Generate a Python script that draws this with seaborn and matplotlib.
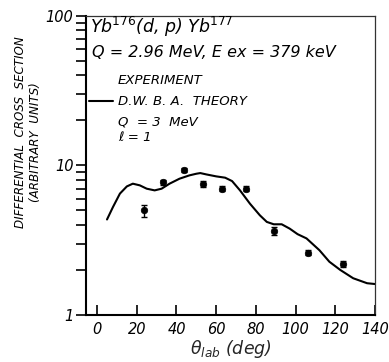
import matplotlib
matplotlib.use("Agg")
import matplotlib.pyplot as plt
import seaborn as sns
import pandas as pd

# DWBA theory curve (Q = 3 MeV, l = 1)
theory_theta = [5, 8, 11.5, 15, 18, 21.5, 25, 29, 32.5, 36.5, 41.5, 46.5, 50, 52,
                55, 60, 64.5, 68, 72, 77, 82, 85.5, 89, 93, 97, 101, 105.5, 112,
                117, 122.5, 129, 136, 140]
theory_sigma = [4.35, 5.27, 6.48, 7.24, 7.55, 7.36, 6.99, 6.81, 6.99, 7.55, 8.15,
                8.58, 8.80, 8.89, 8.71, 8.45, 8.28, 7.86, 6.81, 5.55, 4.64, 4.19,
                4.04, 4.04, 3.78, 3.47, 3.25, 2.71, 2.27, 2.0, 1.76, 1.63, 1.61]

# measured cross sections
exp_theta = [23.5, 33, 44, 53.5, 63, 75, 89, 106, 124]
exp_sigma = [5.0, 7.7, 9.35, 7.5, 7.0, 7.0, 3.65, 2.6, 2.18]
exp_err = [0.45, 0.35, 0.3, 0.35, 0.25, 0.25, 0.2, 0.1, 0.1]

x_ticks = [0, 20, 40, 60, 80, 100, 120, 140]
y_ticks = [1, 10, 100]
y_ticklabels = ["1", "10", "100"]

sns.set_theme(style="white")
plt.rcParams["font.family"] = ["DejaVu Sans"]
plt.rcParams["mathtext.fontset"] = "dejavusans"
plt.rcParams["mathtext.default"] = "it"

fig = plt.figure(figsize=(3.89, 3.62), dpi=100)
ax = fig.add_axes([0.221, 0.130, 0.743, 0.826])

theory = pd.DataFrame({"theta": theory_theta, "sigma": theory_sigma})
data = pd.DataFrame({"theta": exp_theta, "sigma": exp_sigma, "err": exp_err})

sns.lineplot(data=theory, x="theta", y="sigma", ax=ax, color="black",
             linewidth=1.5, sort=False)
ax.errorbar(data["theta"], data["sigma"], yerr=data["err"], fmt="none",
            ecolor="black", elinewidth=1.0, capsize=2.5, capthick=1.0)
sns.scatterplot(data=data, x="theta", y="sigma", ax=ax, color="black",
                marker="o", s=22, edgecolor="black", linewidth=0.5, zorder=5)

ax.set_yscale("log")
ax.set_xlim(-5.6, 140)
ax.set_ylim(1, 100)

tick_font = dict(family="DejaVu Sans", style="italic", size=10.5)
ax.set_xticks(x_ticks)
ax.set_xticklabels([str(t) for t in x_ticks], **tick_font)
ax.set_yticks(y_ticks)
ax.set_yticklabels(y_ticklabels, **tick_font)
ax.yaxis.set_minor_locator(matplotlib.ticker.LogLocator(base=10, subs=range(2, 10)))
ax.yaxis.set_minor_formatter(matplotlib.ticker.NullFormatter())

ax.tick_params(axis="x", which="major", direction="in", length=7, width=1.2,
               bottom=True, top=False, pad=5, colors="black")
ax.tick_params(axis="y", which="both", direction="out", length=7, width=1.2,
               left=True, right=False, pad=2, colors="black")

for side in ["left", "bottom"]:
    ax.spines[side].set_linewidth(1.5)
    ax.spines[side].set_color("black")
for side in ["right", "top"]:
    ax.spines[side].set_linewidth(0.9)
    ax.spines[side].set_color("#333333")

ax.set_xlabel(r"$\theta_{lab}$ (deg)", fontsize=12.5, style="italic", labelpad=1)
ax.set_ylabel("")

label_font = dict(family="DejaVu Sans", style="italic", color="black")
fig.text(0.052, 0.635, "DIFFERENTIAL  CROSS  SECTION", rotation=90,
         ha="center", va="center", size=8.6, **label_font)
fig.text(0.092, 0.608, "(ARBITRARY  UNITS)", rotation=90,
         ha="center", va="center", size=8.6, **label_font)

ax.text(0.015, 0.962, r"Yb$^{176}$(d, p) Yb$^{177}$", transform=ax.transAxes,
        ha="left", va="center", size=12.5, **label_font)
ax.text(0.02, 0.878, "Q = 2.96 MeV, E ex = 379 keV", transform=ax.transAxes,
        ha="left", va="center", size=11.5, **label_font)
ax.text(0.11, 0.785, "EXPERIMENT", transform=ax.transAxes,
        ha="left", va="center", size=9.5, **label_font)
ax.plot([0.01, 0.095], [0.715, 0.715], transform=ax.transAxes, color="black",
        linewidth=1.5)
ax.text(0.11, 0.715, "D.W. B. A.  THEORY", transform=ax.transAxes,
        ha="left", va="center", size=9.5, **label_font)
ax.text(0.11, 0.645, "Q  = 3  MeV", transform=ax.transAxes,
        ha="left", va="center", size=9.5, **label_font)
ax.text(0.11, 0.592, "ℓ = 1", transform=ax.transAxes,
        ha="left", va="center", size=9.5, **label_font)

fig.savefig("out.png", dpi=100)
